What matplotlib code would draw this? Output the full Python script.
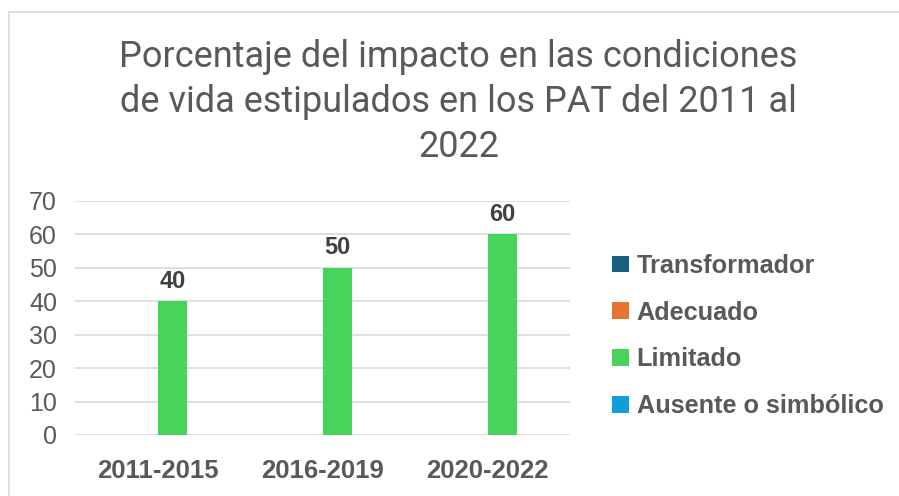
import matplotlib.pyplot as plt
import matplotlib.patches as mpatches
import numpy as np

# data
categories = ["2011-2015", "2016-2019", "2020-2022"]
series_names = ["Transformador", "Adecuado", "Limitado", "Ausente o simbólico"]
transformador = [0, 0, 0]
adecuado = [0, 0, 0]
limitado = [40, 50, 60]
ausente = [0, 0, 0]
colors = ["#1a5e82", "#e97132", "#47d45a", "#0f9ed5"]

title = "Porcentaje del impacto en las condiciones\nde vida estipulados en los PAT del 2011 al\n2022"

txt = "#595959"
grid = "#d9d9d9"

fig = plt.figure(figsize=(8.99, 4.96), dpi=100)
ax = fig.add_axes([0.0834, 0.123, 0.551, 0.472])

x = np.arange(len(categories))
w = 0.18
values = [transformador, adecuado, limitado, ausente]
for i, (name, vals, c) in enumerate(zip(series_names, values, colors)):
    bars = ax.bar(x + (i - 1.5) * w, vals, w, color=c, label=name, zorder=3)
    if name == "Limitado":
        for b, v in zip(bars, vals):
            ax.text(b.get_x() + b.get_width() / 2, v + 2.6, str(v),
                    ha="center", va="bottom", fontsize=17, fontweight="bold",
                    color="#404040", family="Liberation Sans")

ax.set_xlim(-0.5, 2.5)
ax.set_ylim(0, 70)
ax.set_yticks(range(0, 71, 10))
ax.set_xticks(x)
ax.set_xticklabels(categories, fontsize=18.5, fontweight="bold", color=txt,
                   family="Liberation Sans")
for lab in ax.get_yticklabels():
    lab.set_fontsize(18)
    lab.set_color(txt)
    lab.set_family("Liberation Sans")
ax.tick_params(axis="both", length=0)
ax.tick_params(axis="x", pad=17)
ax.tick_params(axis="y", pad=13)
ax.grid(axis="y", color=grid, linewidth=1.2, zorder=0)
for s in ax.spines.values():
    s.set_visible(False)

fig.text(0.51, 1 - 102 / 496, title, ha="center", va="center", fontsize=26,
         color=txt, family="Roboto", linespacing=1.33)

leg = fig.legend(loc="center left", bbox_to_anchor=(0.656, 1 - 336 / 496),
                 frameon=False, handlelength=0.65, handleheight=0.65,
                 handletextpad=0.3, labelspacing=0.9,
                 prop={"family": "Liberation Sans", "weight": "bold", "size": 18.2})
for t in leg.get_texts():
    t.set_color(txt)

fig.patches.append(mpatches.Rectangle((9 / 899, -0.1), 1.2, 1 - 12 / 496 + 0.1,
                                      transform=fig.transFigure, fill=False,
                                      edgecolor=grid, linewidth=1.2))

fig.savefig("out.png", dpi=100)
